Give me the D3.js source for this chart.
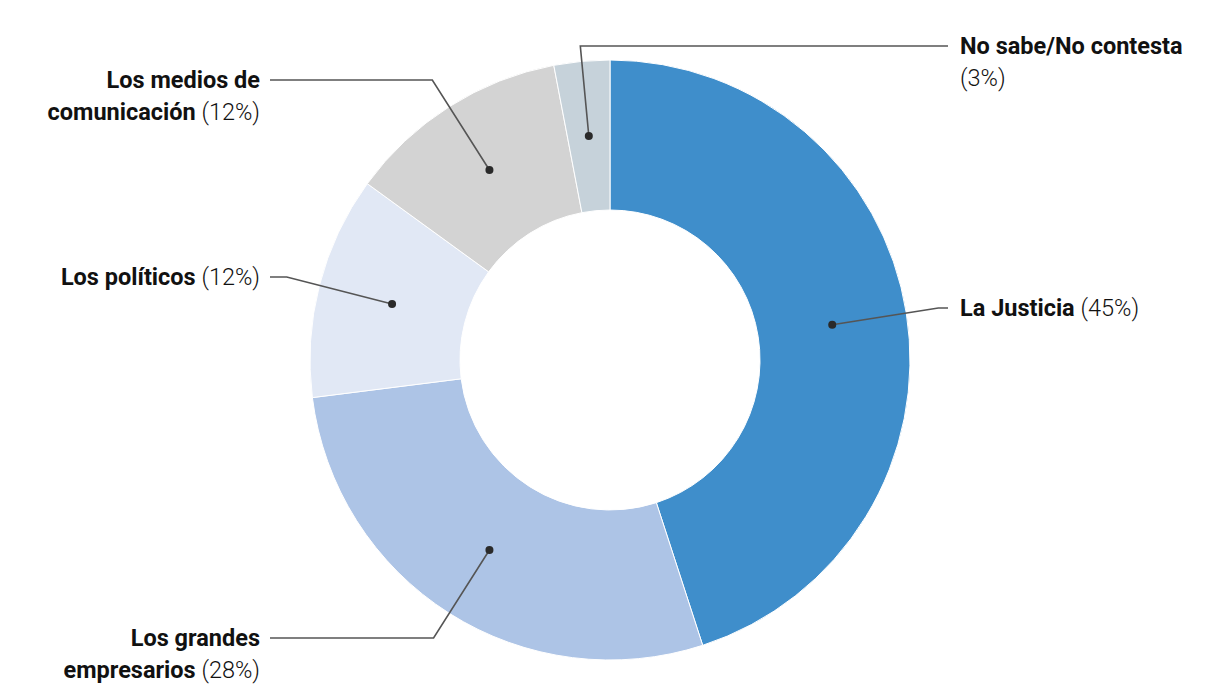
<!DOCTYPE html>
<html>
<head>
<meta charset="utf-8">
<script src="https://cdn.jsdelivr.net/npm/d3@7"></script>
<style>
  body { margin: 0; background: #fff; }
  text { font-family: Roboto, "Noto Sans", sans-serif; fill: #111; }
  .name { font-weight: 700; }
  .pct { font-weight: 300; }
</style>
</head>
<body>
<svg id="chart" width="1220" height="700"></svg>
<script>
// data
const categories = ["La Justicia", "Los grandes empresarios", "Los políticos", "Los medios de comunicación", "No sabe/No contesta"];
const values = [45, 28, 12, 12, 3];
const colors = ["#3f8ecb", "#adc4e6", "#e1e8f5", "#d3d3d3", "#c6d2da"];

// label layout: name lines, side, y of the leader's horizontal run
const labelLines = [
  ["La Justicia"],
  ["Los grandes", "empresarios"],
  ["Los políticos"],
  ["Los medios de", "comunicación"],
  ["No sabe/No contesta", ""]
];
const labelSide = ["right", "left", "left", "left", "right"];
const labelY = [308, 638, 277, 80, 46];

const cx = 610, cy = 360, outer = 300, inner = 150;
const leftEnd = 270, rightEnd = 948;

const svg = d3.select("#chart");
const g = svg.append("g").attr("transform", `translate(${cx},${cy})`);

const pie = d3.pie().sort(null).value(d => d.value);
const arc = d3.arc().innerRadius(inner).outerRadius(outer);

const data = categories.map((c, i) => ({ name: c, value: values[i], i }));
const arcs = pie(data);

g.selectAll("path")
  .data(arcs)
  .join("path")
  .attr("d", arc)
  .attr("fill", d => colors[d.data.i])
  .attr("stroke", "#fff")
  .attr("stroke-width", 1);

// leader lines + labels
const leaders = svg.append("g");
arcs.forEach(d => {
  const i = d.data.i;
  const [mx, my] = arc.centroid(d);
  const mid = (d.startAngle + d.endAngle) / 2;
  const ly = labelY[i] - cy;
  const r = -ly / Math.cos(mid);
  const ex = r * Math.sin(mid);
  const endX = labelSide[i] === "left" ? leftEnd : rightEnd;
  leaders.append("path")
    .attr("d", d3.line()([[cx + mx, cy + my], [cx + ex, labelY[i]], [endX, labelY[i]]]))
    .attr("fill", "none")
    .attr("stroke", "#555")
    .attr("stroke-width", 1.6);
  leaders.append("circle")
    .attr("cx", cx + mx).attr("cy", cy + my)
    .attr("r", 4).attr("fill", "#2a2a2a");

  const left = labelSide[i] === "left";
  const tx = left ? 260 : 960;
  const lines = labelLines[i];
  const t = svg.append("text")
    .attr("x", tx)
    .attr("y", labelY[i] + 8)
    .attr("text-anchor", left ? "end" : "start")
    .style("font-size", "23.5px");
  lines.forEach((ln, k) => {
    const ts = t.append("tspan").attr("x", tx).attr("dy", k === 0 ? 0 : 32);
    const last = k === lines.length - 1;
    if (ln) ts.append("tspan").attr("class", "name").text(ln);
    if (last) ts.append("tspan").attr("class", "pct").text((ln ? " " : "") + `(${values[i]}%)`);
  });
});
</script>
</body>
</html>
